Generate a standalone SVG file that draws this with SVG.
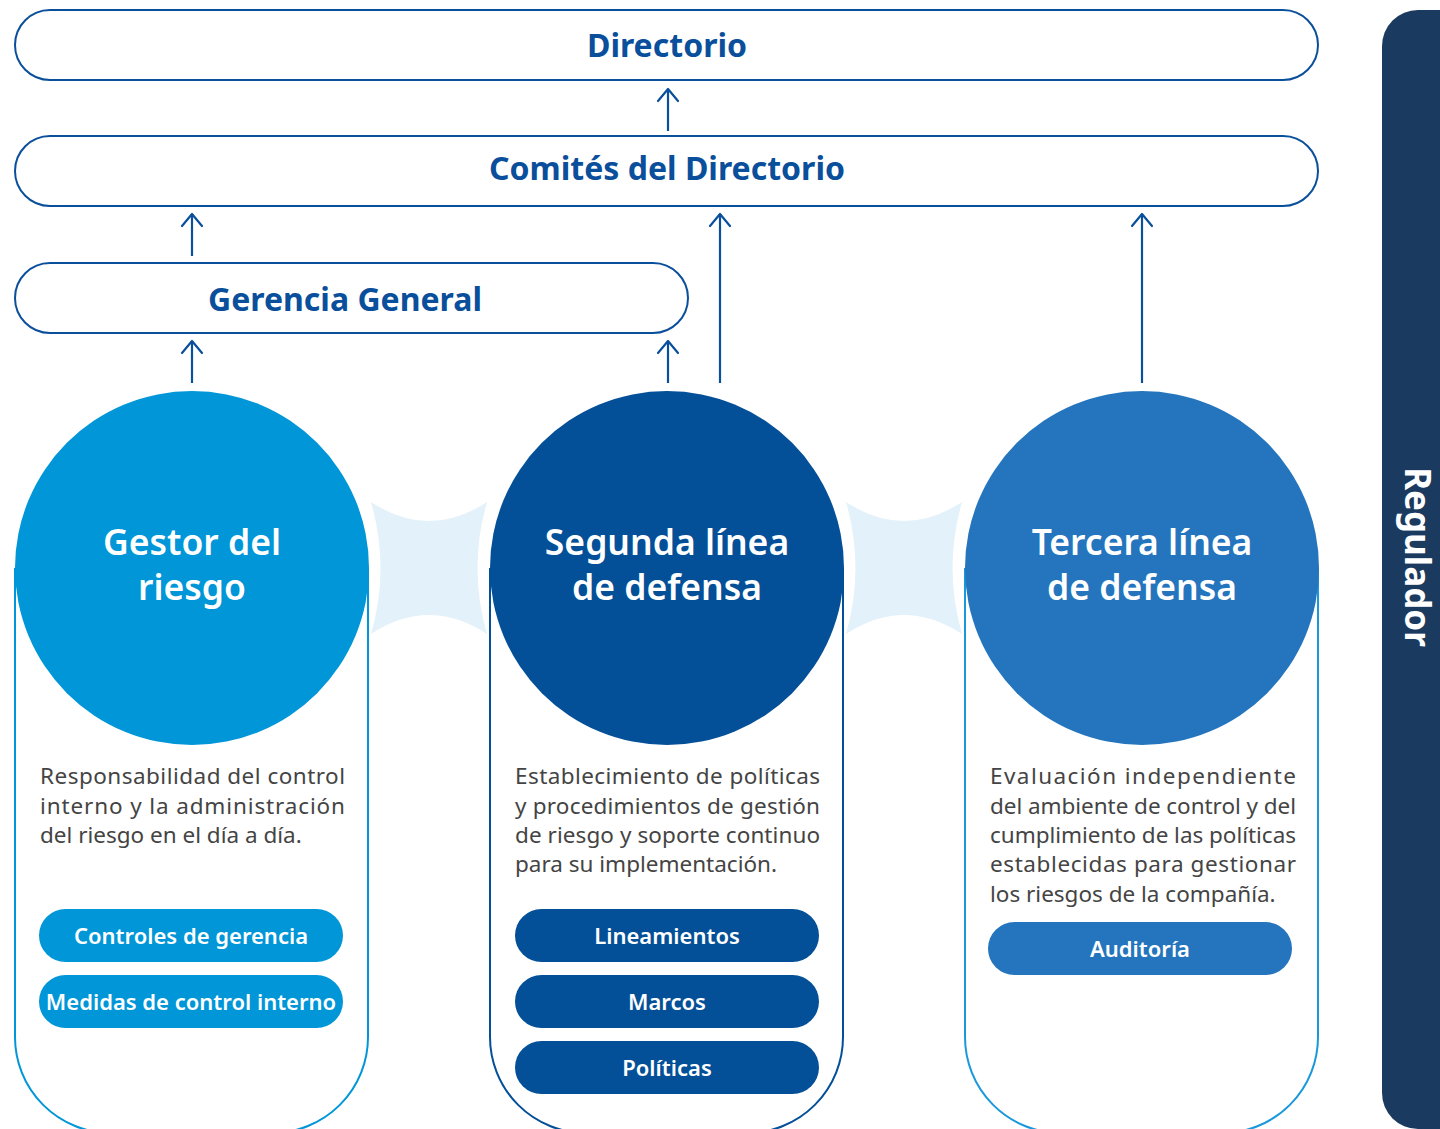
<svg xmlns="http://www.w3.org/2000/svg" width="1440" height="1129" viewBox="0 0 1440 1129">
  <defs>
    <style>
      .box { fill: #ffffff; stroke: #0a4f9b; stroke-width: 2; }
      .title { font-family: "Noto Sans", "Open Sans", sans-serif; font-weight: 700; fill: #0a4f9b; text-anchor: middle; }
      .conn { stroke: #0a4f9b; stroke-width: 2.2; fill: none; }
      .circtext { font-family: "Noto Sans", "Open Sans", sans-serif; font-weight: 600; font-size: 35.5px; fill: #ffffff; text-anchor: middle; }
      .desc { font-family: "Noto Sans", "Open Sans", sans-serif; font-weight: 400; font-size: 22.5px; fill: #444444; }
      .pilltext { font-family: "Noto Sans", "Open Sans", sans-serif; font-weight: 600; font-size: 22px; fill: #ffffff; text-anchor: middle; }
      .link { fill: #e3f2fa; }
    </style>
    <marker id="arrow" viewBox="0 0 16 24" refX="14" refY="12" markerWidth="16" markerHeight="24" markerUnits="userSpaceOnUse" orient="auto">
      <path d="M2,2 L14,12 L2,22" fill="none" stroke="#0a4f9b" stroke-width="2.2" stroke-linecap="round" stroke-linejoin="round"/>
    </marker>
  </defs>
  <rect width="1440" height="1129" fill="#ffffff"/>

  <!-- Regulador bar -->
  <g id="regulador">
    <rect x="1382" y="10" width="110" height="1119" rx="36" ry="36" fill="#1b3a5f"/>
    <text transform="translate(1405,557) rotate(90)" text-anchor="middle" font-family="Noto Sans, Open Sans, sans-serif" font-weight="700" font-size="35" fill="#ffffff">Regulador</text>
  </g>

  <!-- Top boxes -->
  <g id="directorio">
    <rect class="box" x="15" y="10" width="1303" height="70" rx="35" ry="35"/>
    <text class="title" x="667" y="57" font-size="32">Directorio</text>
  </g>
  <g id="comites">
    <rect class="box" x="15" y="136" width="1303" height="70" rx="35" ry="35"/>
    <text class="title" x="667" y="180" font-size="32">Comités del Directorio</text>
  </g>
  <g id="gerencia">
    <rect class="box" x="15" y="263" width="673" height="70" rx="35" ry="35"/>
    <text class="title" x="345" y="311" font-size="32">Gerencia General</text>
  </g>

  <!-- Connectors -->
  <g id="connectors">
    <line class="conn" x1="668" y1="131" x2="668" y2="89" marker-end="url(#arrow)"/>
    <line class="conn" x1="192" y1="256" x2="192" y2="214" marker-end="url(#arrow)"/>
    <line class="conn" x1="720" y1="383" x2="720" y2="214" marker-end="url(#arrow)"/>
    <line class="conn" x1="1142" y1="383" x2="1142" y2="214" marker-end="url(#arrow)"/>
    <line class="conn" x1="192" y1="383" x2="192" y2="341" marker-end="url(#arrow)"/>
    <line class="conn" x1="668" y1="383" x2="668" y2="341" marker-end="url(#arrow)"/>
    <path class="link" d="M371,502 Q429,540 487,502 Q468,568 487,634 Q429,596 371,634 Q390,568 371,502 Z"/>
    <path class="link" d="M846,502 Q904,540 962,502 Q943,568 962,634 Q904,596 846,634 Q865,568 846,502 Z"/>
  </g>

  <!-- Column 1 -->
  <g id="gestor">
    <path d="M15,568 V1037 A96,96 0 0 0 111,1133 H272 A96,96 0 0 0 368,1037 V568" fill="none" stroke="#0096d8" stroke-width="2"/>
    <circle cx="192" cy="568" r="177" fill="#0096d8"/>
    <text class="circtext" x="192" y="555">Gestor del</text>
    <text class="circtext" x="192" y="600">riesgo</text>
    <text class="desc" x="40" y="784" textLength="305" lengthAdjust="spacing">Responsabilidad del control</text>
    <text class="desc" x="40" y="814" textLength="305" lengthAdjust="spacing">interno y la administración</text>
    <text class="desc" x="40" y="843">del riesgo en el día a día.</text>
    <rect x="39" y="909" width="304" height="53" rx="26.5" fill="#0096d8"/>
    <text class="pilltext" x="191" y="944">Controles de gerencia</text>
    <rect x="39" y="975" width="304" height="53" rx="26.5" fill="#0096d8"/>
    <text class="pilltext" x="191" y="1010">Medidas de control interno</text>
  </g>

  <!-- Column 2 -->
  <g id="segunda">
    <path d="M490,568 V1037 A96,96 0 0 0 586,1133 H747 A96,96 0 0 0 843,1037 V568" fill="none" stroke="#034f98" stroke-width="2"/>
    <circle cx="667" cy="568" r="177" fill="#034f98"/>
    <text class="circtext" x="667" y="555">Segunda línea</text>
    <text class="circtext" x="667" y="600">de defensa</text>
    <text class="desc" x="515" y="784" textLength="305" lengthAdjust="spacing">Establecimiento de políticas</text>
    <text class="desc" x="515" y="814" textLength="305" lengthAdjust="spacing">y procedimientos de gestión</text>
    <text class="desc" x="515" y="843" textLength="305" lengthAdjust="spacing">de riesgo y soporte continuo</text>
    <text class="desc" x="515" y="872">para su implementación.</text>
    <rect x="515" y="909" width="304" height="53" rx="26.5" fill="#034f98"/>
    <text class="pilltext" x="667" y="944">Lineamientos</text>
    <rect x="515" y="975" width="304" height="53" rx="26.5" fill="#034f98"/>
    <text class="pilltext" x="667" y="1010">Marcos</text>
    <rect x="515" y="1041" width="304" height="53" rx="26.5" fill="#034f98"/>
    <text class="pilltext" x="667" y="1076">Políticas</text>
  </g>

  <!-- Column 3 -->
  <g id="tercera">
    <path d="M965,568 V1037 A96,96 0 0 0 1061,1133 H1222 A96,96 0 0 0 1318,1037 V568" fill="none" stroke="#1a98dc" stroke-width="2"/>
    <circle cx="1142" cy="568" r="177" fill="#2475bd"/>
    <text class="circtext" x="1142" y="555">Tercera línea</text>
    <text class="circtext" x="1142" y="600">de defensa</text>
    <text class="desc" x="990" y="784" textLength="306" lengthAdjust="spacing">Evaluación independiente</text>
    <text class="desc" x="990" y="814" textLength="306" lengthAdjust="spacing">del ambiente de control y del</text>
    <text class="desc" x="990" y="843" textLength="306" lengthAdjust="spacing">cumplimiento de las políticas</text>
    <text class="desc" x="990" y="872" textLength="306" lengthAdjust="spacing">establecidas para gestionar</text>
    <text class="desc" x="990" y="902">los riesgos de la compañía.</text>
    <rect x="988" y="922" width="304" height="53" rx="26.5" fill="#2475bd"/>
    <text class="pilltext" x="1140" y="957">Auditoría</text>
  </g>
</svg>
